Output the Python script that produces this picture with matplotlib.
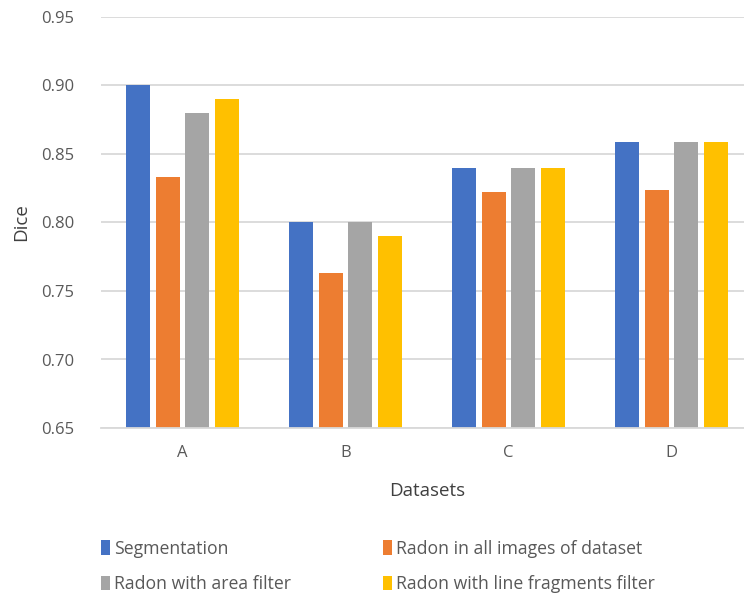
import matplotlib
matplotlib.use("Agg")
import matplotlib.pyplot as plt
import numpy as np

categories = ["A", "B", "C", "D"]
series_names = ["Segmentation", "Radon in all images of dataset",
                "Radon with area filter", "Radon with line fragments filter"]
segmentation = [0.900, 0.800, 0.840, 0.859]
radon_all = [0.833, 0.763, 0.822, 0.824]
radon_area = [0.880, 0.800, 0.840, 0.859]
radon_line = [0.890, 0.790, 0.840, 0.859]
yticks = [0.65, 0.70, 0.75, 0.80, 0.85, 0.90, 0.95]

colors = ["#4472C4", "#ED7D31", "#A5A5A5", "#FFC000"]
plt.rcParams['font.family'] = ['Open Sans', 'DejaVu Sans']

W, H = 744, 599
fig = plt.figure(figsize=(W/100, H/100), dpi=100)
left, right, top, bottom = 101, 753, 17, 428
ax = fig.add_axes([left/W, 1-bottom/H, (right-left)/W, (bottom-top)/H])

x = np.arange(len(categories))
pitch = 0.181
width = 0.145
allseries = [segmentation, radon_all, radon_area, radon_line]
handles = []
for i, (vals, name, c) in enumerate(zip(allseries, series_names, colors)):
    h = ax.bar(x + (i-1.5)*pitch, vals, width=width, color=c, label=name, zorder=2)
    handles.append(h)

ax.set_ylim(0.65, 0.95)
ax.set_xlim(-0.5, 3.5)
ax.set_yticks(yticks)
ax.set_yticklabels([f"{v:.2f}" for v in yticks])
ax.set_xticks(x)
ax.set_xticklabels(categories)
ax.yaxis.grid(True, color="#D9D9D9", linewidth=1.3, zorder=0)
ax.set_axisbelow(True)
for s in ["top", "right", "left"]:
    ax.spines[s].set_visible(False)
ax.spines["bottom"].set_color("#D9D9D9")
ax.spines["bottom"].set_linewidth(1.3)
ax.tick_params(axis="both", length=0, labelsize=12, colors="#595959", pad=8)
ax.tick_params(axis="x", pad=12)
ax.tick_params(axis="y", pad=19)
ax.set_ylabel("Dice", fontsize=13.5, color="#404040", labelpad=8)
ax.set_xlabel("Datasets", fontsize=13.5, color="#404040", labelpad=15)

order = [0, 2, 1, 3]
leg = fig.legend([handles[i] for i in order], [series_names[i] for i in order],
                 loc="upper left", bbox_to_anchor=(85/W, 1-524/H), ncol=2,
                 frameon=False, fontsize=12.7, handlelength=0.5, handleheight=0.9,
                 handletextpad=0.25, columnspacing=5.2, labelspacing=0.98,
                 labelcolor="#595959")
fig.savefig("out.png", dpi=100)
